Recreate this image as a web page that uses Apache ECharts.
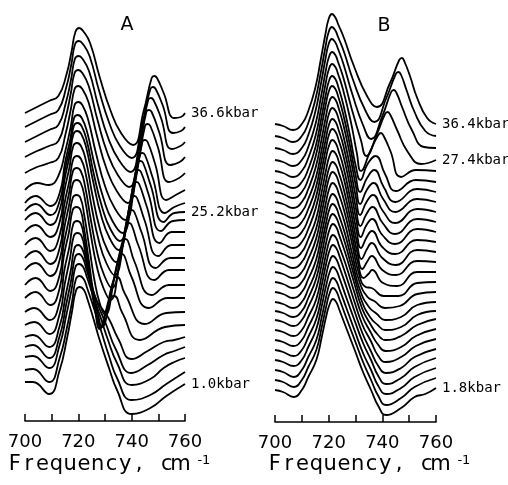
<!DOCTYPE html>
<html>
<head>
<meta charset="utf-8">
<script src="https://cdn.jsdelivr.net/npm/echarts/dist/echarts.min.js"></script>
<style>
  html, body { margin: 0; padding: 0; background: #fff; }
  #main { width: 508px; height: 485px; }
</style>
</head>
<body>
<div id="main"></div>
<script>
// stacked IR spectra, index 0 = highest pressure (top curve)
// each spectrum: [frequency cm-1, height above its own baseline]
var offsetsA = [308, 294, 279, 264, 248, 231, 218, 210, 201, 189, 176, 163, 151, 136, 123, 109, 96, 84, 74, 64, 51, 39];
var spectraA = [
  [[700,0],[704.5,6],[709,12],[712.5,17],[715.5,38],[717.5,62],[718.9,81],[720.3,85],[721.8,82],[724.4,70],[728,36],[732,3],[736,-20],[740.5,-32],[744.5,2],[747.5,35],[748.5,37],[749.5,35],[752,20],[756,-5],[758.5,-4],[760,0]],
  [[700,0],[704.5,6],[709,12],[712.5,17],[715.4,39],[717.4,63],[718.8,83],[720.2,86],[721.7,83],[724.2,71],[727.7,37],[731.6,4],[735.6,-19],[740,-31],[744,4],[747,38],[748,40],[749,38],[751.6,22],[755.5,-6],[758.5,-4],[760,0]],
  [[700,0],[704.5,6],[709,12],[712.5,17],[715.3,39],[717.3,63],[718.7,83],[720.1,86],[721.6,83],[724,71],[727.4,37],[731.2,4],[735.2,-18],[739.5,-30],[743.4,6],[746.2,42],[747.2,44],[748.2,42],[751,24],[755,-7],[758.3,-4],[760,0]],
  [[700,0],[704.5,6],[709,11],[712.5,16],[715.2,39],[717.2,64],[718.6,84],[720,87],[721.5,84],[723.9,71],[727.2,37],[730.9,4],[734.8,-18],[739,-30],[742.8,7],[745.5,45],[746.5,47],[747.5,45],[750.3,25],[754.5,-8],[758,-5],[760,0]],
  [[700,0],[704.5,6],[709,10],[712.5,15],[715.2,39],[717.2,64],[718.6,84],[720,87],[721.5,84],[723.8,71],[727,37],[730.6,4],[734.4,-18],[738.5,-30],[742.3,8],[745,47],[746,49],[747,47],[749.8,26],[754,-9],[757.8,-5],[760,0]],
  [[700,0],[704.5,7],[709,5],[712.5,14],[715.2,40],[717.2,64],[718.6,85],[720,88],[721.5,85],[723.6,71],[726.6,37],[730,4],[733.6,-18],[737.5,-30],[741.3,8],[744,48],[745,50],[746,48],[748.8,26],[753,-10],[756.5,-5],[760,0]],
  [[700,0],[704,7],[709.5,-3],[713,10],[715,40],[717,64],[718.4,85],[719.8,88],[721.3,85],[723.3,71],[726.2,37],[729.5,4],[732.8,-18],[736.5,-30],[740.3,8],[743,48],[744,50],[745,48],[747.8,26],[752.5,-10],[756,-4],[760,0]],
  [[700,0],[704,7],[709.5,-4],[713,10],[714.9,40],[716.9,64],[718.3,85],[719.7,88],[721.2,85],[723.1,71],[725.8,37],[728.9,4],[732,-18],[735.5,-30],[739.4,8],[742.3,48],[743.3,50],[744.3,48],[747.1,26],[752,-11],[756,-2],[760,-1]],
  [[700,0],[704,7],[709.5,-5],[713,10],[714.8,40],[716.8,65],[718.2,86],[719.6,89],[721.1,86],[723,72],[725.6,38],[728.6,4],[731.7,-18],[735,-30],[738.8,8],[741.5,48],[742.5,50],[743.5,48],[746.3,26],[751,-11],[755.5,-1],[760,0]],
  [[700,0],[704,7],[709.5,-5],[713,10],[714.7,40],[716.7,65],[718.1,86],[719.5,89],[721,86],[722.8,72],[725.2,38],[728,4],[730.9,-18],[734,-30],[737.9,8],[740.8,48],[741.8,50],[742.8,48],[745.6,26],[750.5,-11],[755,0],[760,0]],
  [[700,0],[704,7],[709.5,-6],[713,10],[714.7,40],[716.7,65],[718.1,86],[719.5,89],[721,86],[722.7,72],[725,38],[727.7,4],[730.5,-18],[733.5,-30],[737.3,8],[740,47],[741,49],[742,47],[744.8,25],[750,-11],[755,0],[760,0]],
  [[700,0],[704,7],[709.5,-6],[713,10],[714.6,40],[716.6,66],[718,87],[719.4,90],[720.9,87],[722.5,72],[724.7,38],[727.2,4],[729.8,-18],[732.5,-30],[736.2,8],[739,46],[740,48],[741,46],[743.8,25],[749,-10],[754.5,0],[760,0]],
  [[700,0],[704,7],[709.5,-6],[713,10],[714.6,40],[716.6,66],[718,87],[719.4,90],[720.9,87],[722.4,72],[724.5,38],[726.9,4],[729.4,-18],[732,-30],[735.5,8],[738,45],[739,47],[740,45],[742.6,24],[748.5,-10],[754,0],[760,0]],
  [[700,0],[704,7],[709.5,-6],[713,10],[714.5,40],[716.5,66],[717.9,87],[719.3,90],[720.8,87],[722.2,70],[724.1,38],[726.1,4],[728,-18],[730,-30],[733.6,8],[736.6,44],[737.6,46],[738.6,44],[741.1,23],[747.5,-10],[754,0],[760,0]],
  [[700,0],[704,6],[709.5,-7],[713,10],[714.5,41],[716.5,66],[717.9,88],[719.3,91],[720.8,88],[722,72],[723.8,40],[725.6,6],[727.3,-15],[728.8,-29],[732.4,8],[735.3,42],[736.3,44],[737.3,42],[739.8,22],[746.5,-10],[753.5,0],[760,0]],
  [[700,0],[703.5,4],[709.3,-8],[713,10],[714.7,41],[716.7,66],[718.1,88],[719.5,91],[721,88],[722.3,72],[724,44],[725.7,14],[727.2,-6],[728.3,-16],[730.8,6],[733.5,34],[734.5,35],[737.5,18],[745,-12],[753,-1],[760,0]],
  [[700,0],[703.5,3],[709.2,-9],[713,11],[714.9,41],[716.9,67],[718.3,89],[719.7,92],[721.2,89],[722.5,74],[724.3,46],[726.2,16],[728,-4],[730.2,12],[732.5,28],[733.5,29],[736.5,12],[743,-15],[752.5,-2],[760,0]],
  [[700,0],[703,2],[709.1,-10],[713,11],[715.2,41],[717.2,67],[718.6,89],[720,92],[721.5,88],[722.8,76],[725,52],[727,36],[729,28],[731.5,18],[735,-2],[740,-22],[746,-14],[752,-5],[756,-3],[760,0]],
  [[700,0],[703,2],[709,-11],[713,11],[715.4,42],[717.4,68],[718.8,90],[720.2,93],[721.7,89],[723,78],[725.5,56],[728,38],[730.5,22],[734,-2],[740,-26],[746,-18],[752,-8],[756,-4],[760,0]],
  [[700,0],[703,1],[709,-11],[713,12],[715.5,42],[717.5,68],[718.9,90],[720.3,93],[721.8,90],[723.2,80],[725.7,60],[728.3,40],[731,18],[734.5,-6],[740,-28],[747,-22],[752,-11],[756,-5],[760,-1]],
  [[700,0],[703,1],[709,-12],[713,12],[715.7,42],[717.7,69],[719.1,91],[720.5,94],[722,91],[723.3,82],[725.8,62],[728.2,42],[731.5,14],[734.5,-8],[740,-30],[747,-25],[753,-14],[760,-2]],
  [[700,0],[703,0],[709,-12],[713,12],[715.7,43],[717.6,70],[719.2,92],[720.6,95],[722.1,92],[723.4,83],[725.8,62],[728,42],[731.5,14],[734.5,-8],[740,-32],[747,-26],[753,-14],[760,-2]]
];
var labelIdxA = [0, 7, 21];
var labelsA = ['36.6kbar', '25.2kbar', '1.0kbar'];

var offsetsB = [298, 286, 274, 262, 251, 240, 230, 220, 210, 200, 190, 180, 170, 160, 150, 140, 130, 120, 111, 102, 92, 82, 72, 62, 52, 42, 32];
var spectraB = [
  [[700,0],[703,-2],[706.7,-6],[710,0],[712.4,13],[715,36],[717.1,65],[718.8,90],[720,105],[721.2,110],[722.4,107],[723.5,100],[725.7,86],[729.4,58],[734.3,28],[738,17],[742.7,40],[746.3,64],[747.3,66],[748.3,62],[750.3,48],[753,26],[756.7,6],[760,0]],
  [[700,0],[703,-2],[706.7,-6],[710,0],[712.4,13],[715,36],[717.1,64],[718.8,89],[720,104],[721.2,109],[722.4,106],[723.5,99],[725.6,85],[729.1,56],[733.6,26],[737,14],[741.5,38],[745,62],[746,64],[747,61],[749,46],[752,24],[756,5],[760,0]],
  [[700,0],[703,-2],[706.7,-6],[710,0],[712.4,13],[715,36],[717.1,64],[718.8,89],[720,104],[721.2,109],[722.4,106],[723.5,99],[725.5,84],[728.8,54],[732.8,23],[735.8,9],[740,32],[743.3,56],[744.3,58],[745.3,55],[747.5,40],[751,18],[755.5,1],[760,0]],
  [[700,0],[703,-2],[706.7,-6],[710,0],[712.4,13],[715.1,36],[717.2,64],[718.9,89],[720.1,103],[721.3,108],[722.5,105],[723.5,98],[725.4,83],[728.5,52],[732,20],[734,4],[738,26],[741,46],[742,48],[743,45],[745.5,30],[749.5,8],[754.5,-4],[760,0]],
  [[700,0],[703,-2],[706.7,-6],[710,0],[712.4,13],[715.1,35],[717.2,63],[718.9,88],[720.1,102],[721.3,107],[722.5,104],[723.5,97],[725.3,82],[728.2,50],[730.5,18],[732,0],[735.5,20],[738.5,36],[739.5,38],[740.5,35],[743,20],[747,-6],[752.5,1],[760,0]],
  [[700,0],[703,-2],[706.7,-6],[710,0],[712.4,13],[715.1,35],[717.2,63],[718.9,87],[720.1,101],[721.3,106],[722.5,103],[723.6,95],[725.4,78],[727.9,47],[730.1,16],[731.8,2],[734.5,18],[737.5,26],[741,8],[745,-9],[752.5,2],[760,0]],
  [[700,0],[703,-2],[706.7,-6],[710,0],[712.4,13],[715.1,35],[717.2,63],[718.9,87],[720.1,101],[721.3,106],[722.5,103],[723.6,95],[725.4,78],[727.9,47],[730.1,16],[731.7,0],[734.3,14],[737,22],[740.5,5],[744.8,-10],[753,3],[760,0]],
  [[700,0],[703,-2],[706.7,-6],[710,0],[712.4,13],[715.2,35],[717.3,62],[719,86],[720.2,100],[721.4,105],[722.6,102],[723.7,94],[725.5,77],[728,46],[730.2,15],[731.7,-2],[734.2,12],[736.7,19],[740.3,3],[744.8,-10],[753,3],[760,0]],
  [[700,0],[703,-2],[706.7,-6],[710,0],[712.4,13],[715.2,34],[717.3,61],[719,85],[720.2,99],[721.4,104],[722.6,101],[723.7,93],[725.5,76],[728,45],[730.2,14],[731.7,-3],[734.1,10],[736.5,17],[740.2,1],[744.8,-11],[753,3],[760,0]],
  [[700,0],[703,-2],[706.7,-6],[710,0],[712.4,13],[715.2,34],[717.3,61],[719,84],[720.2,98],[721.4,103],[722.6,100],[723.7,92],[725.5,76],[728,45],[730.2,13],[731.8,-4],[734.1,8],[736.3,15],[740.1,-1],[744.8,-12],[753,3],[760,0]],
  [[700,0],[703,-2],[706.7,-6],[710,0],[712.4,13],[715.2,34],[717.3,61],[719,84],[720.2,98],[721.4,103],[722.6,100],[723.7,92],[725.5,76],[728,45],[730.3,12],[731.9,-5],[734.1,7],[736.2,13],[740,-3],[744.8,-12],[753,3],[760,0]],
  [[700,0],[703,-2],[706.7,-6],[710,0],[712.4,13],[715.2,34],[717.3,60],[719,84],[720.2,97],[721.4,102],[722.6,99],[723.7,91],[725.5,75],[728,44],[730.4,11],[732,-6],[734.2,5],[736.1,11],[740,-5],[744.8,-12],[753,2],[760,0]],
  [[700,0],[703,-2],[706.7,-6],[710,0],[712.4,13],[715.3,33],[717.4,60],[719.1,83],[720.3,96],[721.5,101],[722.7,98],[723.8,90],[725.6,74],[728.1,43],[730.5,10],[732.2,-7],[734.3,3],[736,9],[740,-6],[745,-13],[753,2],[760,0]],
  [[700,0],[703,-2],[706.7,-6],[710,0],[712.4,13],[715.3,33],[717.4,59],[719.1,82],[720.3,95],[721.5,100],[722.7,97],[723.8,89],[725.6,73],[728.2,42],[730.7,9],[732.5,-7],[734.5,1],[736,6],[740,-8],[745,-13],[753,1],[760,0]],
  [[700,0],[703,-2],[706.7,-6],[710,0],[712.4,13],[715.3,33],[717.4,59],[719.1,82],[720.3,95],[721.5,100],[722.7,97],[723.8,89],[725.7,72],[728.3,42],[730.9,9],[733,-6],[734.8,-2],[736.2,2],[740.3,-11],[745.5,-14],[753,0],[760,0]],
  [[700,0],[703,-2],[706.7,-6],[710,0],[712.4,13],[715.3,33],[717.4,58],[719.1,81],[720.3,94],[721.5,99],[722.7,96],[723.8,88],[725.8,71],[728.5,41],[731.2,9],[733.8,-5],[736,-6],[740.5,-14],[746,-14],[753,-1],[760,0]],
  [[700,0],[703,-2],[706.7,-6],[710,0],[712.4,13],[715.3,32],[717.4,58],[719.1,80],[720.3,93],[721.5,98],[722.7,95],[723.8,87],[725.9,70],[728.6,40],[731.5,10],[734.5,-5],[737,-9],[741,-16],[746.5,-14],[753,-2],[760,0]],
  [[700,0],[703,-2],[706.7,-6],[710,0],[712.4,13],[715.3,32],[717.4,58],[719.1,80],[720.3,93],[721.5,98],[722.7,95],[723.8,87],[726,69],[728.8,40],[731.8,11],[735,-5],[738,-12],[741,-18],[747,-15],[753,-3],[760,0]],
  [[700,0],[703,-2],[706.7,-6],[710,0],[712.4,13],[715.3,32],[717.4,57],[719.1,80],[720.3,92],[721.5,97],[722.7,94],[723.9,86],[726.1,68],[729,40],[732.2,11],[735.4,-6],[738.3,-14],[741,-19],[747,-16],[753,-4],[760,0]],
  [[700,0],[703,-2],[706.8,-6],[710,0],[712.4,13],[715.4,32],[717.5,57],[719.2,79],[720.4,91],[721.6,96],[722.8,93],[723.9,85],[726.2,67],[729.2,40],[732.4,12],[735.5,-4],[738.4,-15],[741.2,-20],[747,-16],[753,-5],[760,1]],
  [[700,0],[703,-2],[706.8,-6],[710,0],[712.4,13],[715.4,31],[717.5,56],[719.2,78],[720.4,90],[721.6,95],[722.8,92],[723.9,84],[726.3,66],[729.3,40],[732.5,14],[735.6,-2],[738.5,-15],[741.2,-21],[747,-17],[752.5,-6],[760,1]],
  [[700,0],[703,-2],[706.8,-6],[710,0],[712.4,13],[715.4,31],[717.5,56],[719.2,78],[720.4,90],[721.6,95],[722.8,92],[724,84],[726.4,65],[729.4,40],[732.6,15],[735.7,-1],[738.5,-16],[741.3,-22],[747,-17],[752.5,-6],[760,1]],
  [[700,0],[703,-2],[706.9,-6],[710,0],[712.4,13],[715.4,31],[717.5,55],[719.2,77],[720.4,89],[721.6,94],[722.8,91],[724,83],[726.5,64],[729.5,40],[732.7,16],[735.7,-1],[738.5,-16],[741.3,-23],[747,-18],[752,-7],[760,1]],
  [[700,0],[703,-2],[706.9,-6],[710,0],[712.4,13],[715.4,31],[717.5,55],[719.2,76],[720.4,88],[721.6,93],[722.8,90],[724,82],[726.5,63],[729.6,40],[732.8,17],[735.8,0],[738.5,-16],[741.4,-24],[747,-18],[752,-7],[760,2]],
  [[700,0],[703,-2],[707,-7],[710,0],[712.4,13],[715.4,30],[717.5,54],[719.2,75],[720.4,87],[721.6,92],[722.8,89],[724,81],[726.6,62],[729.6,40],[732.8,17],[735.8,0],[738.5,-16],[741.4,-24],[747,-18],[752,-7],[760,2]],
  [[700,0],[703,-2],[707,-7],[710,0],[712.4,13],[715.4,30],[717.5,54],[719.2,75],[720.4,87],[721.6,92],[722.8,89],[724,81],[726.6,62],[729.7,40],[732.8,18],[735.8,0],[738.5,-16],[741.4,-25],[747,-18],[752,-7],[760,2]],
  [[700,0],[703,-2],[707,-7],[710,0],[712.4,13],[715.4,30],[717.5,54],[719.2,75],[720.4,86],[721.6,91],[722.8,88],[724,80],[726.7,61],[729.7,40],[732.8,18],[735.8,0],[738.5,-16],[741.4,-25],[747,-18],[752,-7],[756,-4],[760,2]]
];
var labelIdxB = [0, 3, 26];
var labelsB = ['36.4kbar', '27.4kbar', '1.8kbar'];

var tickLabels = [700, 720, 740, 760];
var axisTitle = 'Frequency, cm';

var chart = echarts.init(document.getElementById('main'));

function buildSeries(spectra, offsets, labelIdx, labels, axis) {
  return spectra.map(function (pts, i) {
    var j = labelIdx.indexOf(i);
    return {
      type: 'line',
      xAxisIndex: axis,
      yAxisIndex: axis,
      data: pts.map(function (p) { return [p[0], offsets[i] + p[1]]; }),
      smooth: 0.5,
      symbol: 'none',
      silent: true,
      lineStyle: { color: '#000', width: 1.8 },
      endLabel: j < 0 ? { show: false } : {
        show: true,
        formatter: labels[j],
        distance: 6,
        color: '#000',
        fontSize: 14,
        fontFamily: 'DejaVu Sans Mono'
      }
    };
  });
}

function xAxisOpt(grid) {
  return {
    type: 'value', gridIndex: grid, min: 700, max: 760, interval: 10,
    axisLine: { lineStyle: { color: '#000', width: 1.5 } },
    axisTick: { inside: true, length: 7, lineStyle: { color: '#000', width: 1.5 } },
    splitLine: { show: false },
    axisLabel: {
      margin: 12, color: '#000', fontSize: 18, fontFamily: 'DejaVu Sans',
      formatter: function (v) { return tickLabels.indexOf(v) >= 0 ? String(v) : ''; }
    }
  };
}

// spaced-out axis title, one glyph per cell like the plotter lettering
function titleText(x0) {
  var out = [];
  for (var i = 0; i < axisTitle.length; i++) {
    out.push({
      type: 'text', silent: true,
      style: {
        x: x0 + 6.9 + i * 13.8, y: 465, text: axisTitle[i],
        textAlign: 'center', textVerticalAlign: 'middle',
        fontSize: 21, fontFamily: 'DejaVu Sans', fill: '#000'
      }
    });
  }
  out.push({
    type: 'text', silent: true,
    style: {
      x: x0 + axisTitle.length * 13.8 + 10, y: 461, text: '-1',
      textAlign: 'left', textVerticalAlign: 'middle',
      fontSize: 13, fontFamily: 'DejaVu Sans', fill: '#000'
    }
  });
  return out;
}

var option = {
  animation: false,
  backgroundColor: '#fff',
  grid: [
    { left: 25, top: 0, width: 160, height: 421 },
    { left: 275, top: 0, width: 161, height: 422 }
  ],
  xAxis: [xAxisOpt(0), xAxisOpt(1)],
  yAxis: [
    { type: 'value', gridIndex: 0, min: 0, max: 421, show: false },
    { type: 'value', gridIndex: 1, min: 0, max: 422, show: false }
  ],
  graphic: [
    { type: 'text', silent: true, style: { x: 127, y: 25, text: 'A', textAlign: 'center', textVerticalAlign: 'middle', fontSize: 19, fontFamily: 'DejaVu Sans', fill: '#000' } },
    { type: 'text', silent: true, style: { x: 384, y: 26, text: 'B', textAlign: 'center', textVerticalAlign: 'middle', fontSize: 19, fontFamily: 'DejaVu Sans', fill: '#000' } }
  ].concat(titleText(8), titleText(268)),
  series: buildSeries(spectraA, offsetsA, labelIdxA, labelsA, 0)
    .concat(buildSeries(spectraB, offsetsB, labelIdxB, labelsB, 1))
};

chart.setOption(option);
</script>
</body>
</html>
